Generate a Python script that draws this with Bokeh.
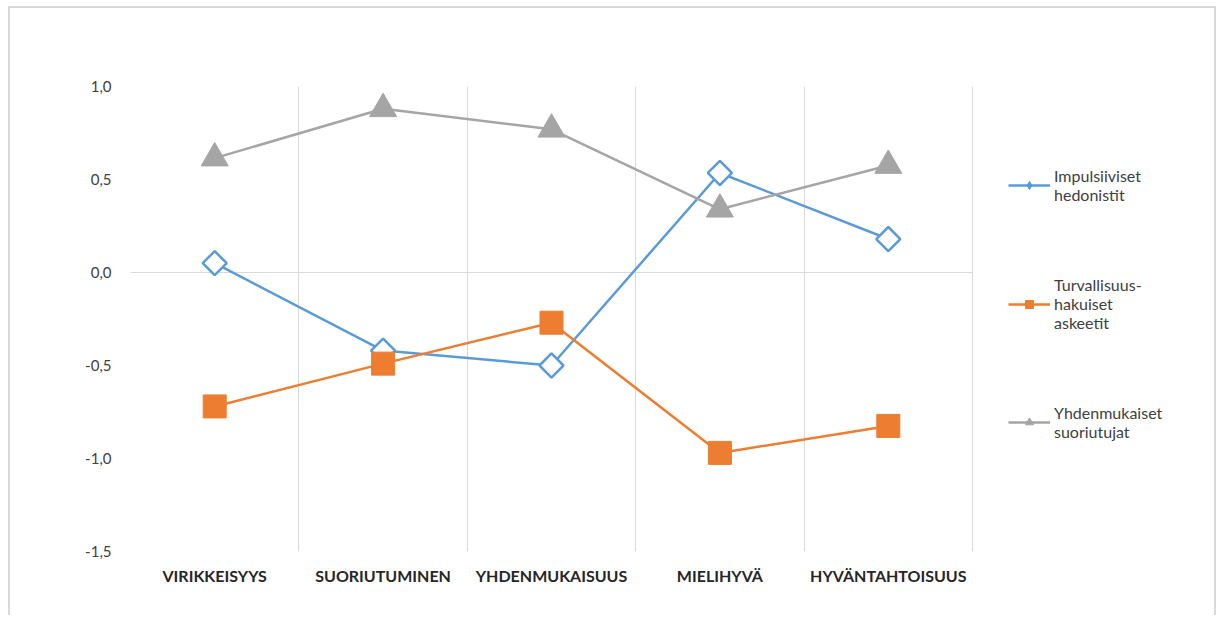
from bokeh.plotting import figure
from bokeh.models import FixedTicker, Legend, LegendItem, Range1d
from bokeh.embed import file_html
from bokeh.resources import INLINE
import math

categories = ["VIRIKKEISYYS", "SUORIUTUMINEN", "YHDENMUKAISUUS", "MIELIHYVÄ", "HYVÄNTAHTOISUUS"]
impulsiiviset = [0.05, -0.42, -0.50, 0.535, 0.18]
turvallisuus = [-0.72, -0.49, -0.27, -0.97, -0.825]
yhdenmukaiset = [0.615, 0.88, 0.77, 0.34, 0.575]
series_names = ["Impulsiiviset\nhedonistit", "Turvallisuus-\nhakuiset\naskeetit", "Yhdenmukaiset\nsuoriutujat"]
y_ticks = [-1.5, -1.0, -0.5, 0.0, 0.5, 1.0]
y_tick_labels = ["-1,5", "-1,0", "-0,5", "0,0", "0,5", "1,0"]

FONT = "Lato"
BLUE, ORANGE, GRAY = "#5B9BD5", "#ED7D31", "#A5A5A5"
GRID = "#d9d9d9"

n = len(categories)
xs = [i + 0.5 for i in range(n)]

W, H = 1208, 609
LEFT, TOP, BOTTOM = 120, 78, 66
PLOT_W = 842                     # width of the category area
frame_w = W - LEFT               # frame also hosts the legend area on the right
x_max = n * frame_w / PLOT_W

p = figure(width=W, height=H, output_backend="svg", toolbar_location=None,
           x_range=Range1d(0, x_max), y_range=Range1d(y_ticks[0], y_ticks[-1]),
           min_border_left=LEFT, min_border_right=0, min_border_top=TOP, min_border_bottom=BOTTOM)
p.outline_line_color = None
p.background_fill_color = "white"
p.border_fill_color = "white"
p.styles = {"margin-left": "8px", "margin-top": "6px",
            "border-top": "2px solid #d9d9d9", "border-left": "2px solid #d9d9d9",
            "border-right": "2px solid #d9d9d9"}

# grids: vertical lines between categories, horizontal zero line
p.xgrid.ticker = FixedTicker(ticks=list(range(n + 1)))
p.xgrid.grid_line_color = GRID
p.xgrid.grid_line_width = 1
p.ygrid.visible = False
p.segment(x0=[0], y0=[0.0], x1=[n], y1=[0.0], line_color=GRID, line_width=1)

# axes
p.xaxis.ticker = FixedTicker(ticks=xs)
p.xaxis.major_label_overrides = {x: c for x, c in zip(xs, categories)}
p.yaxis.ticker = FixedTicker(ticks=y_ticks)
p.yaxis.major_label_overrides = {t: l for t, l in zip(y_ticks, y_tick_labels)}
for ax in (p.xaxis[0], p.yaxis[0]):
    ax.axis_line_color = None
    ax.major_tick_line_color = None
    ax.minor_tick_line_color = None
    ax.major_label_text_font = FONT
p.yaxis.major_label_text_font_size = "15px"
p.yaxis.major_label_text_color = "#404040"
p.yaxis.major_label_standoff = 13
p.xaxis.major_label_text_font_size = "16px"
p.xaxis.major_label_text_font_style = "bold"
p.xaxis.major_label_text_color = "#262626"
p.xaxis.major_label_standoff = 8

# series
l1 = p.line(xs, impulsiiviset, line_color=BLUE, line_width=2.5)
m1 = p.scatter(xs, impulsiiviset, marker="square", size=17, angle=math.pi / 4,
               line_color=BLUE, line_width=2.5, fill_color="white")
# zero-size diamond used only for the legend swatch
m1_key = p.scatter(xs, impulsiiviset, marker="diamond", size=0,
                   line_color=BLUE, fill_color=BLUE)
l2 = p.line(xs, turvallisuus, line_color=ORANGE, line_width=2.5)
m2 = p.scatter(xs, turvallisuus, marker="square", size=23, line_color=ORANGE, fill_color=ORANGE)
l3 = p.line(xs, yhdenmukaiset, line_color=GRAY, line_width=2.5)
m3 = p.scatter(xs, yhdenmukaiset, marker="triangle", size=27, line_color=GRAY, fill_color=GRAY)

lg = Legend(items=[LegendItem(label=nm, renderers=r)
                   for nm, r in zip(series_names, [[l1, m1_key], [l2, m2], [l3, m3]])],
            location=(878, 110))
lg.border_line_color = None
lg.background_fill_alpha = 0
lg.padding = 0
lg.margin = 0
lg.spacing = 71
lg.glyph_width = 42
lg.glyph_height = 20
lg.label_standoff = 4
lg.label_text_font = FONT
lg.label_text_font_size = "16px"
lg.label_text_color = "#404040"
p.add_layout(lg, "center")

open("out.html", "w").write(file_html(p, INLINE))
